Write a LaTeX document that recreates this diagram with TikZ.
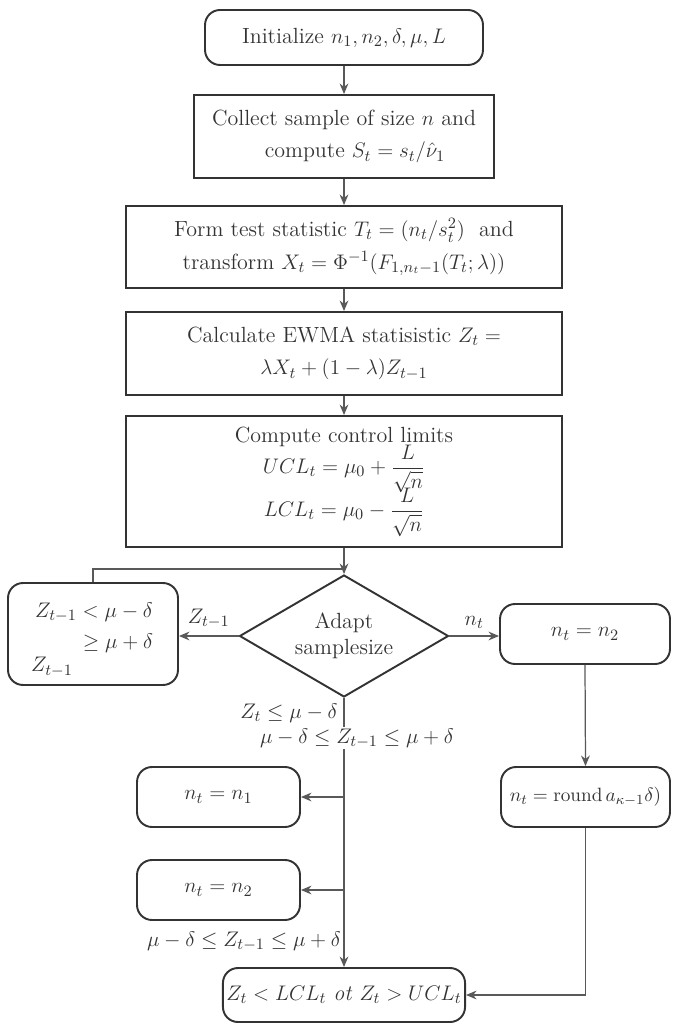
\documentclass[tikz,border=0pt]{standalone}
\usepackage{amsmath,amssymb}
\usetikzlibrary{shapes.geometric,arrows.meta,calc}
\begin{document}
\begin{tikzpicture}[x=0.02cm,y=-0.02cm,
  font=\fontsize{12.5}{18.5}\selectfont,
  every node/.style={text=black!80},
  boxr/.style={draw=black!80,line width=1.1pt,rounded corners=0.3cm,align=center,inner sep=2pt},
  boxs/.style={draw=black!80,line width=1.1pt,align=center,inner sep=2pt},
  dec/.style={draw=black!80,line width=1.1pt,diamond,aspect=1.71,align=center,inner sep=0pt,minimum width=4.18cm,minimum height=2.44cm},
  conn/.style={draw=black!65,line width=0.7pt},
  arr/.style={conn,-{Stealth[length=6pt,width=5pt]}},
  lbl/.style={inner sep=1pt}]
\useasboundingbox (0,0) rectangle (685,1030);
\node[boxr,minimum width=5.56cm,minimum height=1.1cm] (init) at (344,37.5) {Initialize $n_1, n_2, \delta, \mu, L$};
\node[boxs,minimum width=6.0cm,minimum height=1.66cm] (collect) at (344,136.5) {Collect sample of size $n$ and\\ \quad compute $S_t = s_t/\hat{\nu}_1$};
\node[boxs,minimum width=8.72cm,minimum height=1.64cm] (form) at (344,247) {Form test statistic $T_t = (n_t/s_t^2)$\ \ and\\ transform $X_t = \Phi^{-1}(F_{1,n_t-1}(T_t;\lambda))$};
\node[boxs,minimum width=8.72cm,minimum height=1.66cm] (ewma) at (344,353.5) {Calculate EWMA statisistic $Z_t =$\\ $\lambda X_t + (1-\lambda) Z_{t-1}$};
\node[boxs,minimum width=8.72cm,minimum height=2.62cm] (ctrl) at (344,481.5) {Compute control limits\\[-2pt] $UCL_t = \mu_0 + \dfrac{L}{\sqrt{n}}$\\[-4pt] $LCL_t = \mu_0 - \dfrac{L}{\sqrt{n}}$};
\node[dec] (dia) at (344,636) {Adapt\\[-4pt] samplesize};
\node[boxr,minimum width=3.4cm,minimum height=2.04cm] (left) at (93,634) {};
\node[lbl] (l1) at (94,612) {$Z_{t-1} < \mu - \delta$};
\node[lbl] (l2) at (118,643) {$\ge \mu + \delta$};
\node[lbl] (l3) at (52,667) {$Z_{t-1}$};
\node[boxr,minimum width=3.4cm,minimum height=1.2cm] (rn2) at (585,634) {$n_t = n_2$};
\node[boxr,minimum width=3.38cm,minimum height=1.2cm] (rnd) at (585.5,797) {\fontsize{11}{13}\selectfont $n_t = \mathrm{round}\,a_{\kappa-1}\delta)$};
\node[boxr,minimum width=3.26cm,minimum height=1.2cm] (n1) at (218.5,797) {$n_t = n_1$};
\node[boxr,minimum width=3.26cm,minimum height=1.2cm] (n2b) at (218.5,890) {$n_t = n_2$};
\node[boxr,minimum width=4.76cm,minimum height=1.08cm] (final) at (344,995) {$Z_t < LCL_t$ \textit{ot} $Z_t > UCL_t$};
% main flow
\draw[arr] (init) -- (collect);
\draw[arr] (collect) -- (form);
\draw[arr] (form) -- (ewma);
\draw[arr] (ewma) -- (ctrl);
\draw[arr] (ctrl.south -| dia.north) -- (dia.north);
\coordinate (loop) at (344,569);
\draw[conn] (left.north) |- (loop);
% branches
\draw[arr] (dia.west) -- node[lbl,above=3pt] {$Z_{t-1}$} (dia.west -| left.east);
\draw[arr] (dia.east) -- node[lbl,above=3pt] {$n_t$} (dia.east -| rn2.west);
\draw[arr] (rn2.south) -- (rnd.north);
\draw[arr] (rnd.south) |- (final.east);
\draw[arr] (dia.south) -- (final.north);
\draw[arr] (dia.south |- n1.east) -- (n1.east);
\draw[arr] (dia.south |- n2b.east) -- (n2b.east);
\node[lbl,fill=white] (c1) at (289,713) {$Z_t \le \mu - \delta$};
\node[lbl,fill=white] (c2) at (357,738) {$\mu - \delta \le Z_{t-1} \le \mu + \delta$};
\node[lbl] (c3) at (244,941) {$\mu - \delta \le Z_{t-1} \le \mu + \delta$};
\end{tikzpicture}
\end{document}
